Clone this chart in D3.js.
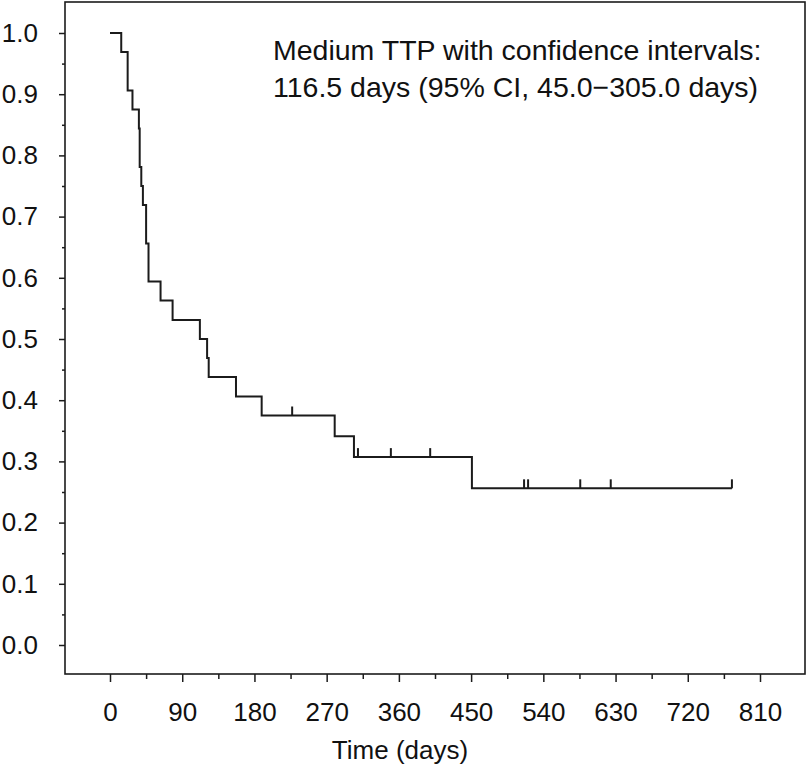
<!DOCTYPE html>
<html>
<head>
<meta charset="utf-8">
<script src="https://cdn.jsdelivr.net/npm/d3@7"></script>
<style>
  html, body { margin: 0; padding: 0; background: #fff; }
  svg { display: block; font-family: "Liberation Sans", Arial, Helvetica, sans-serif; }
</style>
</head>
<body>
<svg id="chart" width="808" height="768"></svg>
<script>
// ---- data ----
const stepDays = [0, 14, 22, 28, 36, 37, 39, 41, 45, 48, 63, 78, 112, 121, 123, 157, 189, 280, 304, 451];
const survival = [1.000, 0.969, 0.906, 0.875, 0.844, 0.781, 0.750, 0.719, 0.656, 0.594, 0.563, 0.531, 0.500, 0.469, 0.438, 0.406, 0.375, 0.341, 0.307, 0.256];
const lastDay = 775;
const censorDays = [227, 309, 350, 399, 516, 521, 586, 624, 775];
const xTickValues = [0, 90, 180, 270, 360, 450, 540, 630, 720, 810];
const xMinorTicks = [45, 135, 225, 315, 405, 495, 585, 675, 765];
const yTickValues = [0, 0.1, 0.2, 0.3, 0.4, 0.5, 0.6, 0.7, 0.8, 0.9, 1.0];
const yMinorTicks = [0.05, 0.15, 0.25, 0.35, 0.45, 0.55, 0.65, 0.75, 0.85, 0.95];
const annotationLines = ["Medium TTP with confidence intervals:", "116.5 days (95% CI, 45.0\u2212305.0 days)"];
const xTitle = "Time (days)";

// ---- layout ----
const svg = d3.select("#chart");
const box = { left: 65, right: 805, top: 2, bottom: 674 };
const x = d3.scaleLinear().domain([0, 810]).range([110, 760]);
const y = d3.scaleLinear().domain([0, 1]).range([645, 33]);
const ink = "#1b1b1b";

// frame
svg.append("rect")
  .attr("x", box.left).attr("y", box.top)
  .attr("width", box.right - box.left).attr("height", box.bottom - box.top)
  .attr("fill", "none").attr("stroke", ink).attr("stroke-width", 1.6);

// x axis
const gx = svg.append("g").attr("transform", `translate(0,${box.bottom})`);
gx.call(d3.axisBottom(x).tickValues(xTickValues).tickSize(8).tickSizeOuter(0).tickPadding(21).tickFormat(d3.format("d")));
gx.select(".domain").remove();
gx.selectAll(".tick line").attr("stroke", ink).attr("stroke-width", 1.5);
gx.selectAll(".tick text").attr("fill", "#111").style("font-size", "26px");
const gxm = svg.append("g").attr("transform", `translate(0,${box.bottom})`);
gxm.call(d3.axisBottom(x).tickValues(xMinorTicks).tickSize(5).tickSizeOuter(0).tickFormat(""));
gxm.select(".domain").remove();
gxm.selectAll(".tick line").attr("stroke", ink).attr("stroke-width", 1.5);

// y axis
const gy = svg.append("g").attr("transform", `translate(${box.left},0)`);
gy.call(d3.axisLeft(y).tickValues(yTickValues).tickSize(6).tickSizeOuter(0).tickPadding(21).tickFormat(d3.format(".1f")));
gy.select(".domain").remove();
gy.selectAll(".tick line").attr("stroke", ink).attr("stroke-width", 1.5);
gy.selectAll(".tick text").attr("fill", "#111").style("font-size", "26px");
const gym = svg.append("g").attr("transform", `translate(${box.left},0)`);
gym.call(d3.axisLeft(y).tickValues(yMinorTicks).tickSize(3).tickSizeOuter(0).tickFormat(""));
gym.select(".domain").remove();
gym.selectAll(".tick line").attr("stroke", ink).attr("stroke-width", 1.5);

// axis title
svg.append("text")
  .attr("x", 400).attr("y", 759)
  .attr("text-anchor", "middle")
  .attr("fill", "#111")
  .style("font-size", "26px")
  .text(xTitle);

// survival step curve
const pts = stepDays.map((d, i) => [d, survival[i]]);
pts.push([lastDay, survival[survival.length - 1]]);
const line = d3.line().x(d => x(d[0])).y(d => y(d[1])).curve(d3.curveStepAfter);
svg.append("path")
  .attr("d", line(pts))
  .attr("fill", "none").attr("stroke", ink).attr("stroke-width", 2)
  .attr("stroke-linejoin", "miter");

// censor marks
function survAt(t) {
  let s = survival[0];
  for (let i = 0; i < stepDays.length; i++) if (stepDays[i] <= t) s = survival[i];
  return s;
}
svg.append("g").selectAll("line").data(censorDays).join("line")
  .attr("x1", d => x(d)).attr("x2", d => x(d))
  .attr("y1", d => y(survAt(d))).attr("y2", d => y(survAt(d)) - 9)
  .attr("stroke", ink).attr("stroke-width", 2);

// annotation
const ann = svg.append("text")
  .attr("fill", "#111")
  .style("font-size", "28.5px");
annotationLines.forEach((t, i) => {
  ann.append("tspan").attr("x", 273).attr("y", 60 + i * 37).text(t);
});
</script>
</body>
</html>
